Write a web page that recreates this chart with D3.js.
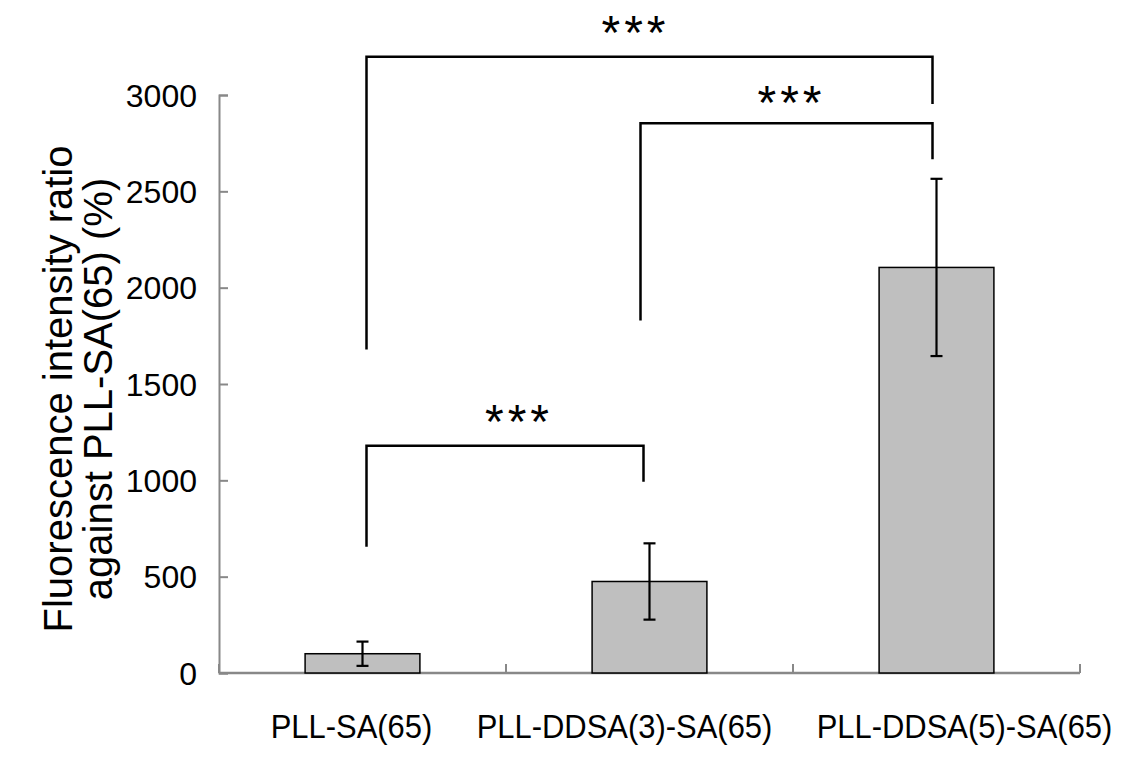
<!DOCTYPE html>
<html>
<head>
<meta charset="utf-8">
<script src="https://cdn.jsdelivr.net/npm/d3@7"></script>
<style>
  body { margin: 0; background: #fff; }
  text { font-family: "Liberation Sans", Arial, sans-serif; }
</style>
</head>
<body>
<div id="vis1"></div>
<script>
const FRAME_WIDTH = 1129;
const FRAME_HEIGHT = 758;
const MARGINS = {left: 219, right: 49, top: 95, bottom: 85};

// data
const categories = ["PLL-SA(65)", "PLL-DDSA(3)-SA(65)", "PLL-DDSA(5)-SA(65)"];
const means = [100, 475, 2105];
const errors = [63, 198, 460];
const y_ticks = [0, 500, 1000, 1500, 2000, 2500, 3000];

// significance brackets: [from bar, to bar], bracket level, leg ends, label
const sig_pairs = [[0, 2], [1, 2], [0, 1]];
const sig_levels = [3198, 2854, 1180];
const sig_left_ends = [1679, 1830, 655];
const sig_right_ends = [2953, 2667, 993];
const sig_labels = ["***", "***", "***"];

const VIS_WIDTH = FRAME_WIDTH - MARGINS.left - MARGINS.right;
const VIS_HEIGHT = FRAME_HEIGHT - MARGINS.top - MARGINS.bottom;

const FRAME1 = d3.select("#vis1")
  .append("svg")
    .attr("width", FRAME_WIDTH)
    .attr("height", FRAME_HEIGHT);

const x_scale = d3.scaleBand()
  .domain(categories)
  .range([MARGINS.left, MARGINS.left + VIS_WIDTH]);

const y_scale = d3.scaleLinear()
  .domain([0, 3000])
  .range([MARGINS.top + VIS_HEIGHT, MARGINS.top]);

const cx = i => x_scale(categories[i]) + x_scale.bandwidth() / 2;

// y axis (ticks point inwards)
const yAxis = FRAME1.append("g")
  .attr("transform", `translate(${MARGINS.left},0)`)
  .call(d3.axisRight(y_scale).tickValues(y_ticks).tickSize(9).tickFormat(""));
yAxis.select(".domain").attr("stroke", "#888").attr("stroke-width", 2);
yAxis.selectAll(".tick line").attr("stroke", "#888").attr("stroke-width", 2);

FRAME1.selectAll(".ylab")
  .data(y_ticks)
  .join("text")
    .attr("class", "ylab")
    .attr("x", MARGINS.left - 22)
    .attr("y", d => y_scale(d))
    .attr("dy", "0.36em")
    .attr("text-anchor", "end")
    .attr("font-size", 32)
    .attr("fill", "#000")
    .text(d => d);

// x axis
const xTicks = d3.range(categories.length + 1).map(i => MARGINS.left + i * x_scale.bandwidth());
FRAME1.append("line")
  .attr("x1", MARGINS.left).attr("x2", MARGINS.left + VIS_WIDTH)
  .attr("y1", y_scale(0)).attr("y2", y_scale(0))
  .attr("stroke", "#888").attr("stroke-width", 2.5);
FRAME1.selectAll(".xtick")
  .data(xTicks)
  .join("line")
    .attr("class", "xtick")
    .attr("x1", d => d).attr("x2", d => d)
    .attr("y1", y_scale(0)).attr("y2", y_scale(0) - 9)
    .attr("stroke", "#888").attr("stroke-width", 2);

// bars
const barW = x_scale.bandwidth() * 0.4;
FRAME1.selectAll(".bar")
  .data(means)
  .join("rect")
    .attr("class", "bar")
    .attr("x", (d, i) => cx(i) - barW / 2)
    .attr("y", d => y_scale(d))
    .attr("width", barW)
    .attr("height", d => y_scale(0) - y_scale(d))
    .attr("fill", "#bfbfbf")
    .attr("stroke", "#000")
    .attr("stroke-width", 1.5);

// error bars
const eb = FRAME1.selectAll(".err")
  .data(means)
  .join("g")
    .attr("class", "err");
eb.append("line")
  .attr("x1", (d, i) => cx(i)).attr("x2", (d, i) => cx(i))
  .attr("y1", (d, i) => y_scale(d + errors[i]))
  .attr("y2", (d, i) => y_scale(d - errors[i]));
eb.append("line")
  .attr("x1", (d, i) => cx(i) - 6).attr("x2", (d, i) => cx(i) + 6)
  .attr("y1", (d, i) => y_scale(d + errors[i]))
  .attr("y2", (d, i) => y_scale(d + errors[i]));
eb.append("line")
  .attr("x1", (d, i) => cx(i) - 6).attr("x2", (d, i) => cx(i) + 6)
  .attr("y1", (d, i) => y_scale(d - errors[i]))
  .attr("y2", (d, i) => y_scale(d - errors[i]));
eb.selectAll("line").attr("stroke", "#000").attr("stroke-width", 2.2);

// x labels (slightly condensed like the original)
const xLabelShift = [-11, -25, 28];
FRAME1.selectAll(".xlab")
  .data(categories)
  .join("text")
    .attr("class", "xlab")
    .attr("transform", (d, i) => `translate(${cx(i) + xLabelShift[i]},${y_scale(0) + 65}) scale(0.91,1)`)
    .attr("text-anchor", "middle")
    .attr("font-size", 34)
    .attr("fill", "#000")
    .text(d => d);

// y title
const yTitle = FRAME1.append("g")
  .attr("transform", `translate(0,${(y_scale(0) + y_scale(3000)) / 2 + 5}) rotate(-90)`);
yTitle.append("text")
  .attr("x", 0).attr("y", 72)
  .attr("text-anchor", "middle")
  .attr("font-size", 40)
  .attr("fill", "#000")
  .text("Fluorescence intensity ratio");
yTitle.append("text")
  .attr("x", 0).attr("y", 112)
  .attr("text-anchor", "middle")
  .attr("font-size", 40)
  .attr("fill", "#000")
  .text("against PLL-SA(65) (%)");

// significance brackets
const legDx = [4, -8, -4];
sig_pairs.forEach((p, k) => {
  const xl = cx(p[0]) + legDx[p[0]] + (p[0] === 1 && k === 1 ? -1 : 0);
  const xr = cx(p[1]) + legDx[p[1]] + (p[1] === 1 ? 2 : 0);
  const path = d3.path();
  path.moveTo(xl, y_scale(sig_left_ends[k]));
  path.lineTo(xl, y_scale(sig_levels[k]));
  path.lineTo(xr, y_scale(sig_levels[k]));
  path.lineTo(xr, y_scale(sig_right_ends[k]));
  FRAME1.append("path")
    .attr("d", path.toString())
    .attr("fill", "none")
    .attr("stroke", "#000")
    .attr("stroke-width", 2.5);
  FRAME1.append("text")
    .attr("x", (xl + xr) / 2 + (k === 0 ? -14 : (k === 2 ? 14 : 5)))
    .attr("y", y_scale(sig_levels[k]) - (k === 1 ? 4 : 8))
    .attr("text-anchor", "middle")
    .attr("font-size", 48)
    .attr("letter-spacing", 4)
    .attr("fill", "#000")
    .text(sig_labels[k]);
});
</script>
</body>
</html>
